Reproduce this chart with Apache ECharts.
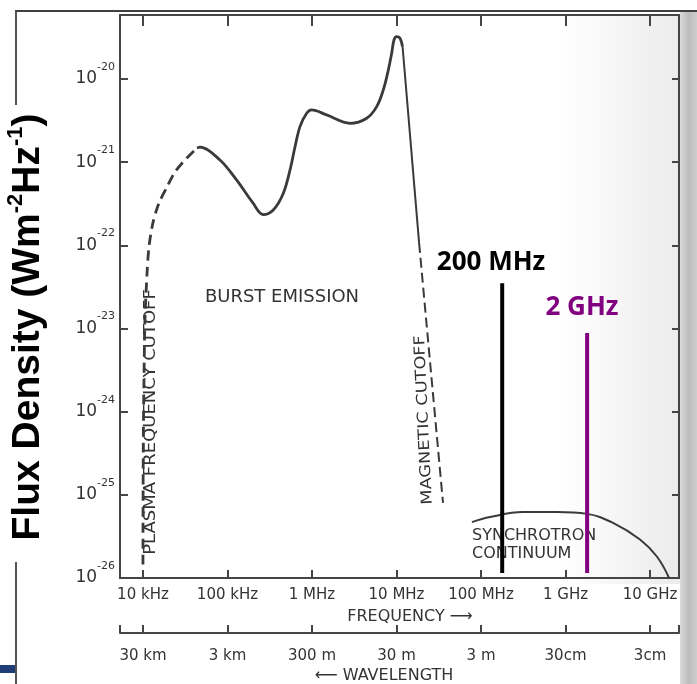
<!DOCTYPE html>
<html><head><meta charset="utf-8">
<script src="https://cdn.jsdelivr.net/npm/echarts@6/dist/echarts.min.js"></script>
<style>html,body{margin:0;padding:0;background:#fff}#c{width:697px;height:684px}</style>
</head><body><div id="c"></div>
<script>
// ---- tick labels ----
const freqTickLabels = ['10 kHz','100 kHz','1 MHz','10 MHz','100 MHz','1 GHz','10 GHz']; // 1e4 .. 1e10 Hz
const waveTickLabels = ['30 km','3 km','300 m','30 m','3 m','30cm','3cm'];
const fluxTickExponents = [-26,-25,-24,-23,-22,-21,-20];

// ---- data (Hz, W m^-2 Hz^-1) ----
const plasmaFreq = [1.0e4, 1.008e4, 1.028e4, 1.056e4, 1.115e4, 1.178e4, 1.31e4, 1.545e4, 1.92e4, 2.39e4, 3.14e4, 4.36e4];
const plasmaFlux = [1.45e-26, 3.46e-25, 2.4e-24, 1.26e-23, 4.4e-23, 9.5e-23, 1.85e-22, 3.2e-22, 5.0e-22, 7.6e-22, 1.06e-21, 1.48e-21];

const burstFreq = [4.36e4, 4.73e4, 8.15e4, 1.28e5, 2.0e5, 2.65e5, 3.48e5, 4.57e5, 5.5e5, 6.3e5, 7.21e5, 8.65e5, 9.9e5, 1.49e6, 2.82e6, 4.44e6, 5.83e6, 6.98e6, 8.0e6, 8.77e6, 9.33e6, 1.005e7, 1.1e7, 1.18e7];
const burstFlux = [1.48e-21, 1.51e-21, 1.06e-21, 6.1e-22, 3.23e-22, 2.34e-22, 2.66e-22, 4.2e-22, 8.05e-22, 1.53e-21, 2.67e-21, 3.86e-21, 4.24e-21, 3.69e-21, 2.93e-21, 3.37e-21, 4.65e-21, 7.38e-21, 1.28e-20, 2.04e-20, 2.94e-20, 3.22e-20, 3.08e-20, 2.44e-20];

const magSolidFreq = [1.18e7, 1.85e7];
const magSolidFlux = [2.44e-20, 1.07e-22];
const magDashFreq = [1.85e7, 3.55e7];
const magDashFlux = [1.07e-22, 8.0e-26];

const synchFreq = [7.8e7, 1.28e8, 3.1e8, 7.9e8, 1.8e9, 3.65e9, 7.6e9, 1.21e10, 1.68e10];
const synchFlux = [4.7e-26, 5.4e-26, 6.2e-26, 6.2e-26, 5.9e-26, 4.6e-26, 2.9e-26, 1.8e-26, 1.0e-26];

const markerFreq = [1.78e8, 1.8e9];
const markerTopFlux = [3.5e-23, 8.8e-24];
const markerBottomFlux = [1.15e-26, 1.15e-26];
const markerLabels = ['200 MHz', '2 GHz'];
const markerColors = ['#000000', '#800080'];

// axes are drawn in decades (log10 of the value)
const L = Math.log10;
const zip = (a, b) => a.map((v, i) => [L(v), L(b[i])]);
const expOf = v => { const r = Math.round(v); return Math.abs(v - r) < 1e-6 ? r : null; };

const INK = '#3a3a3a';
const AX = '#454545';
const SCAN_FONT = 'DejaVu Sans';

const X_MIN = L(5350), X_MAX = L(2.2e10);
const Y_MIN = -26, Y_MAX = L(5.87e-20);

const xBase = {
  type: 'value', min: X_MIN, max: X_MAX, minInterval: 1, maxInterval: 1, splitNumber: 6, gridIndex: 0,
  splitLine: { show: false },
  axisLine: { show: true, onZero: false, lineStyle: { color: AX, width: 2 } },
  axisTick: { show: true, inside: true, length: 8, lineStyle: { color: AX, width: 2 } }
};
const yBase = {
  type: 'value', min: Y_MIN, max: Y_MAX, interval: 1, gridIndex: 0,
  splitLine: { show: false },
  axisLine: { show: true, onZero: false, lineStyle: { color: AX, width: 2 } },
  axisTick: { show: true, inside: true, length: 8, lineStyle: { color: AX, width: 2 } }
};

const series = [
  { type: 'line', data: zip(plasmaFreq, plasmaFlux), smooth: 0.3, symbol: 'none',
    lineStyle: { color: INK, width: 2.8, type: [10, 6] }, z: 3 },
  { type: 'line', data: zip(burstFreq, burstFlux), smooth: 0.35, symbol: 'none',
    lineStyle: { color: INK, width: 2.8 }, z: 3 },
  { type: 'line', data: zip(magSolidFreq, magSolidFlux), symbol: 'none',
    lineStyle: { color: INK, width: 2 }, z: 3 },
  { type: 'line', data: zip(magDashFreq, magDashFlux), symbol: 'none',
    lineStyle: { color: INK, width: 2, type: [10, 5] }, z: 3 },
  { type: 'line', data: zip(synchFreq, synchFlux), smooth: 0.4, symbol: 'none',
    lineStyle: { color: INK, width: 2 }, z: 3 }
];
markerFreq.forEach((f, i) => {
  series.push({ type: 'line', data: [[L(f), L(markerTopFlux[i])], [L(f), L(markerBottomFlux[i])]], symbol: 'none',
    lineStyle: { color: markerColors[i], width: 4 }, z: 5 });
});

const txt = (x, y, text, font, color, extra) => Object.assign({
  type: 'text', x, y, z: 2,
  style: { text, font, fill: color, align: 'center', verticalAlign: 'middle', textAlign: 'center', textVerticalAlign: 'middle' }
}, extra || {});

const option = {
  animation: false,
  backgroundColor: '#ffffff',
  grid: { left: 120, right: 18, top: 15, bottom: 106, show: false },
  xAxis: [
    Object.assign({}, xBase, { position: 'bottom',
      axisLabel: { show: true, margin: 10, color: '#333', fontFamily: SCAN_FONT, fontSize: 15,
        formatter: v => { const e = expOf(v); return e === null ? '' : (freqTickLabels[e - 4] || ''); } } }),
    Object.assign({}, xBase, { position: 'top', axisLabel: { show: false },
      axisTick: { show: true, inside: true, length: 11, lineStyle: { color: AX, width: 2 } } }),
    Object.assign({}, xBase, { position: 'bottom', offset: 55,
      axisLabel: { show: true, margin: 16, color: '#333', fontFamily: SCAN_FONT, fontSize: 15,
        formatter: v => { const e = expOf(v); return e === null ? '' : (waveTickLabels[e - 4] || ''); } } })
  ],
  yAxis: [
    Object.assign({}, yBase, { position: 'left',
      axisLabel: { show: true, margin: 5, color: '#333',
        formatter: v => { const e = expOf(v); return (e === null || fluxTickExponents.indexOf(e) < 0) ? '' : '{b|10}{s|' + e + '}'; },
        rich: {
          b: { fontSize: 17, fontFamily: SCAN_FONT, color: '#333' },
          s: { fontSize: 11, fontFamily: SCAN_FONT, color: '#333', padding: [0, 0, 24, 0] }
        } } }),
    Object.assign({}, yBase, { position: 'right', axisLabel: { show: false },
      axisTick: { show: true, inside: true, length: 7, lineStyle: { color: AX, width: 2 } } })
  ],
  series: series,
  graphic: { elements: [
    { type: 'rect', z: -10, shape: { x: 560, y: 15, width: 120, height: 569 },
      style: { fill: { type: 'linear', x: 0, y: 0, x2: 1, y2: 0, colorStops: [
        { offset: 0, color: 'rgba(0,0,0,0)' }, { offset: 1, color: 'rgba(0,0,0,0.08)' }] } } },
    { type: 'rect', z: -10, shape: { x: 680, y: 11, width: 17, height: 673 },
      style: { fill: { type: 'linear', x: 0, y: 0, x2: 1, y2: 0, colorStops: [
        { offset: 0, color: '#dadada' }, { offset: 0.5, color: '#bcbcbc' }, { offset: 1, color: '#cdcdcd' }] } } },
    { type: 'line', z: 1, shape: { x1: 15, y1: 11, x2: 697, y2: 11 }, style: { stroke: '#404040', lineWidth: 2 } },
    { type: 'line', z: 1, shape: { x1: 16, y1: 11, x2: 16, y2: 105 }, style: { stroke: '#555', lineWidth: 2 } },
    { type: 'line', z: 1, shape: { x1: 16, y1: 562, x2: 16, y2: 684 }, style: { stroke: '#555', lineWidth: 2 } },
    { type: 'rect', z: 1, shape: { x: 0, y: 665, width: 15, height: 8 }, style: { fill: '#1d3c78' } },
    txt(282, 297, 'BURST EMISSION', '18px "DejaVu Sans"', '#333'),
    txt(151, 422, 'PLASMA FREQUENCY CUTOFF', '15px "DejaVu Sans"', '#333', { rotation: Math.PI / 2, scaleX: 1.2 }),
    txt(424, 420, 'MAGNETIC CUTOFF', '15px "DejaVu Sans"', '#333', { rotation: Math.PI / 2 + 0.047, scaleX: 1.18 }),
    { type: 'text', x: 472, y: 545, z: 2, style: { text: 'SYNCHROTRON\nCONTINUUM', font: '16px "DejaVu Sans"', fill: '#333',
      lineHeight: 18, align: 'left', verticalAlign: 'middle', textAlign: 'left', textVerticalAlign: 'middle' } },
    txt(410, 617, 'FREQUENCY \u27F6', '16px "DejaVu Sans"', '#333'),
    txt(384, 676, '\u27F5 WAVELENGTH', '16px "DejaVu Sans"', '#333'),
    txt(491, 263, markerLabels[0], 'bold 26px "Open Sans"', markerColors[0]),
    txt(582, 308, markerLabels[1], 'bold 26px "Open Sans"', markerColors[1]),
    { type: 'text', x: 28.5, y: 327, z: 2, rotation: Math.PI / 2,
      style: { text: '{a|Flux Density (Wm}{s|-2}{a|Hz}{s|-1}{a|)}',
        align: 'center', verticalAlign: 'middle', textAlign: 'center', textVerticalAlign: 'middle',
        rich: {
          a: { fontSize: 39, fontWeight: 'bold', fontFamily: 'Liberation Sans', fill: '#000', color: '#000' },
          s: { fontSize: 22, fontWeight: 'bold', fontFamily: 'Liberation Sans', fill: '#000', color: '#000', padding: [0, 0, 26, 0] }
        } } }
  ] }
};

const chart = echarts.init(document.getElementById('c'), null, { renderer: 'canvas' });
chart.setOption(option);
</script>
</body></html>
